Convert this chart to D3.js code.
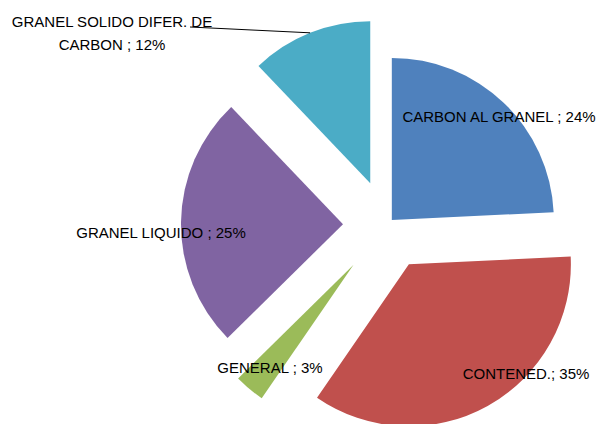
<!DOCTYPE html>
<html>
<head>
<meta charset="utf-8">
<script src="https://cdn.jsdelivr.net/npm/d3@7"></script>
<style>
  body { margin: 0; background: #fff; }
  svg { display: block; }
  .lbl { font-family: "Liberation Sans", Arial, sans-serif; font-size: 15px; fill: #000; }
</style>
</head>
<body>
<svg class="viz" width="600" height="424"></svg>
<script>
// Data
var categories = ["CARBON AL GRANEL", "CONTENED.", "GENERAL", "GRANEL LIQUIDO", "GRANEL SOLIDO DIFER. DE CARBON"];
var values = [24, 35, 3, 25, 12];
var labelLines = [
  ["CARBON AL GRANEL ; 24%"],
  ["CONTENED.; 35%"],
  ["GENERAL ; 3%"],
  ["GRANEL LIQUIDO ; 25%"],
  ["GRANEL SOLIDO DIFER. DE", "CARBON ; 12%"]
];

// styles / layout
var colors = ["#4F81BD", "#C0504D", "#9BBB59", "#8064A2", "#4BACC6"];
var explode = [7, 45, 52, 44, 45];
var labelPos = [[499, 117], [526, 374], [270, 368], [161, 233], [112, 22]];

var svg = d3.select(".viz"),
    cx = 387, cy = 225,
    radius = 162;

var pie = d3.pie().sort(null).value(function(d) { return d; });
var arc = d3.arc().innerRadius(0).outerRadius(radius);

var arcs = pie(values);

var g = svg.append("g")
  .attr("transform", "translate(" + cx + "," + cy + ")");

g.selectAll("path")
  .data(arcs)
  .enter().append("path")
  .attr("d", arc)
  .attr("fill", function(d, i) { return colors[i]; })
  .attr("transform", function(d, i) {
    var a = (d.startAngle + d.endAngle) / 2;
    return "translate(" + (Math.sin(a) * explode[i]) + "," + (-Math.cos(a) * explode[i]) + ")";
  });

// leader line for the teal slice (ends at middle of its outer edge)
var tealArc = arcs[4];
var tealOff = explode[4];
var ta = (tealArc.startAngle + tealArc.endAngle) / 2;
svg.append("line")
  .attr("x1", 190).attr("y1", 27)
  .attr("x2", cx + Math.sin(ta) * (tealOff + radius))
  .attr("y2", cy - Math.cos(ta) * (tealOff + radius))
  .style("stroke", "#000")
  .style("stroke-width", "1px");

// labels
labelLines.forEach(function(lines, i) {
  var t = svg.append("text")
    .attr("class", "lbl")
    .attr("text-anchor", "middle")
    .attr("x", labelPos[i][0])
    .attr("y", labelPos[i][1]);
  lines.forEach(function(s, j) {
    t.append("tspan")
      .attr("x", labelPos[i][0])
      .attr("dy", j == 0 ? "0.36em" : "23px")
      .text(s);
  });
});
</script>
</body>
</html>
